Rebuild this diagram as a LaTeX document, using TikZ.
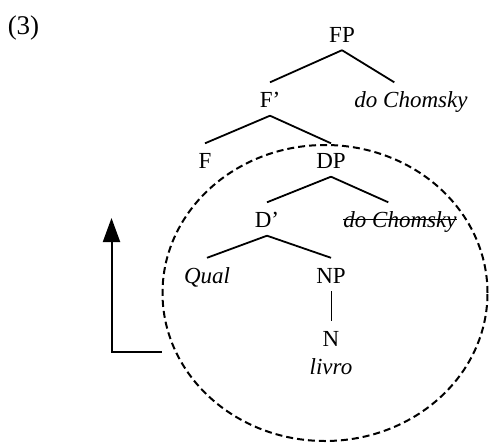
\documentclass[tikz,border=0pt]{standalone}
\usepackage{fontspec}
\setmainfont{Liberation Serif}
\usetikzlibrary{positioning, shapes.geometric, arrows.meta}

\tikzset{
  cat/.style={inner sep=0pt, text height=25pt, text depth=8pt, font=\fontsize{23}{27}\selectfont},
  branch/.style={line width=1.8pt},
  unary/.style={line width=0.9pt},
  strike/.style={line width=0.8pt},
  movement/.style={ellipse, draw, line width=2pt, dash pattern=on 7pt off 4pt,
    minimum width=325pt, minimum height=296pt, inner sep=0pt},
}

\begin{document}
\begin{tikzpicture}[x=1pt, y=-1pt, on grid]
  \useasboundingbox (0,0) rectangle (490,442);

  \node[anchor=base, font=\fontsize{27}{31}\selectfont] (ex) at (23.5,34) {(3)};

  \node[cat] (FP) at (342,33.5) {FP};
  \node[cat] (Fbar) [below left=65.5pt and 72pt of FP] {F’};
  \node[cat] (dC) [right=141pt of Fbar] {\textit{do Chomsky}};
  \node[cat] (F) [below left=61pt and 65pt of Fbar] {F};
  \node[cat] (DP) [right=126pt of F] {DP};
  \node[cat] (Dbar) [below left=59pt and 64pt of DP] {D’};
  \node[cat] (dCtrace) [right=133pt of Dbar] {\textit{do Chomsky}};
  \node[cat] (Qual) [below left=55.5pt and 60pt of Dbar] {\textit{Qual}};
  \node[cat] (NP) [right=124pt of Qual] {NP};
  \node[cat] (N) [below=63pt of NP] {N};
  \node[cat] (livro) [below=28pt of N] {\textit{livro}};

  % moved constituent
  \node[movement] (moved) at (325,293) {};

  \draw[branch] (FP.south) -- (Fbar.north);
  \draw[branch] (FP.south) -- (dC.135);
  \draw[branch] (Fbar.south) -- (F.north);
  \draw[branch] (Fbar.south) -- (DP.north);
  \draw[branch] (DP.south) -- (Dbar.north);
  \draw[branch] (DP.south) -- (dCtrace.125);
  \draw[branch] (Dbar.south) -- (Qual.north);
  \draw[branch] (Dbar.south) -- (NP.north);
  \draw[unary] (NP.south) -- (N.north);
  \draw[strike] ([yshift=8pt]dCtrace.base west) -- ([yshift=8pt]dCtrace.base east);

  \draw[line width=2pt, -{Triangle[width=17pt,length=24pt]}]
    ([yshift=-59pt]moved.west) -- ++(-50,0) -- ++(0,-134);
\end{tikzpicture}
\end{document}
